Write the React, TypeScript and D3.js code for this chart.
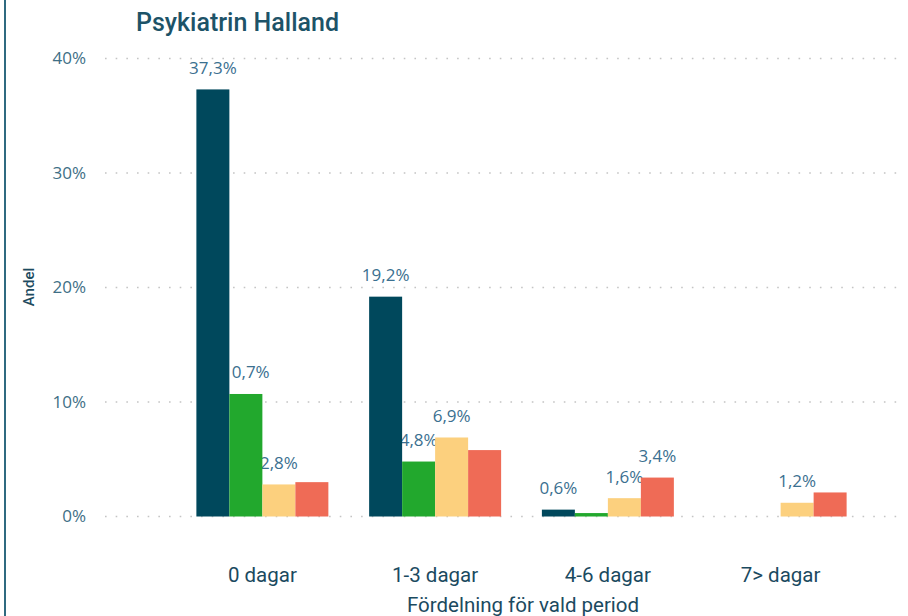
import React from "react";
import * as d3 from "d3";

// categories and series
const groups = ["0 dagar", "1-3 dagar", "4-6 dagar", "7> dagar"];
const seriesKeys = ["s1", "s2", "s3", "s4"];
const seriesColors = ["#00485c", "#22a82d", "#fcd07e", "#ef6b56"];

// values in percent, one array per series
const s1Values = [37.3, 19.2, 0.6, 0];
const s2Values = [10.7, 4.8, 0.3, 0];
const s3Values = [2.8, 6.9, 1.6, 1.2];
const s4Values = [3.0, 5.8, 3.4, 2.1];

// which data labels Power BI actually showed (false = hidden)
const s1Shown = [true, true, true, false];
const s2Shown = [true, true, false, false];
const s3Shown = [true, true, true, true];
const s4Shown = [false, false, true, false];

const yTicks = [0, 10, 20, 30, 40];

const W = 908;
const H = 616;

const fmt = (v: number) => d3.format(".1f")(v).replace(".", ",") + "%";

export default function App() {
  const values = [s1Values, s2Values, s3Values, s4Values];
  const shown = [s1Shown, s2Shown, s3Shown, s4Shown];

  const x0 = d3
    .scaleBand<string>()
    .domain(groups)
    .range([176, 867])
    .paddingInner(0.236)
    .paddingOuter(0.118);
  const x1 = d3
    .scaleBand<string>()
    .domain(seriesKeys)
    .range([0, x0.bandwidth()]);
  const y = d3.scaleLinear().domain([0, 40]).range([516.5, 58.5]);

  const labelFont = "'Open Sans', 'Segoe UI', sans-serif";
  const dinFont = "Roboto, 'Noto Sans', sans-serif";

  return (
    <svg
      width={W}
      height={H}
      style={{ position: "absolute", left: 0, top: 0, background: "#fff" }}
    >
      {/* frame line on the left */}
      <line x1={5} x2={5} y1={0} y2={H} stroke="#2f6a80" strokeWidth={2} />

      {/* title */}
      <text
        x={136}
        y={31}
        fontFamily={dinFont}
        fontSize={25}
        fontWeight={500}
        fill="#1d5368"
      >
        Psykiatrin Halland
      </text>

      {/* gridlines + tick labels */}
      {yTicks.map((t) => (
        <g key={t}>
          <line
            x1={105}
            x2={902}
            y1={y(t)}
            y2={y(t)}
            stroke="#c4c4c4"
            strokeWidth={1.6}
            strokeDasharray="1.6 9.07"
          />
          <text
            x={86}
            y={y(t) + 1}
            textAnchor="end"
            dominantBaseline="middle"
            fontFamily={labelFont}
            fontSize={17}
            fill="#3e6f86"
          >
            {t + "%"}
          </text>
        </g>
      ))}

      {/* y axis title */}
      <text
        transform={`translate(34,287) rotate(-90)`}
        textAnchor="middle"
        fontFamily={dinFont}
        fontSize={15}
        fontWeight={500}
        fill="#1d4b60"
      >
        Andel
      </text>

      {/* data labels first, bars drawn over them like in the original */}
      {groups.map((g, gi) => (
        <g key={"lab" + g} transform={`translate(${x0(g)},0)`}>
          {seriesKeys.map((k, si) =>
            shown[si][gi] ? (
              <text
                key={k}
                x={(x1(k) as number) + x1.bandwidth() / 2}
                y={y(values[si][gi]) - 15.5}
                textAnchor="middle"
                fontFamily={labelFont}
                fontSize={17}
                fill="#3b7090"
              >
                {fmt(values[si][gi])}
              </text>
            ) : null
          )}
        </g>
      ))}

      {/* bars */}
      {groups.map((g, gi) => (
        <g key={"bar" + g} transform={`translate(${x0(g)},0)`}>
          {seriesKeys.map((k, si) => {
            const v = values[si][gi];
            if (!v) return null;
            return (
              <rect
                key={k}
                x={x1(k)}
                y={y(v)}
                width={x1.bandwidth()}
                height={y(0) - y(v)}
                fill={seriesColors[si]}
              />
            );
          })}
        </g>
      ))}

      {/* category labels */}
      {groups.map((g) => (
        <text
          key={"cat" + g}
          x={(x0(g) as number) + x0.bandwidth() / 2}
          y={582}
          textAnchor="middle"
          fontFamily={dinFont}
          fontSize={20.5}
          fill="#1b4a5f"
        >
          {g}
        </text>
      ))}

      {/* x axis title */}
      <text
        x={523}
        y={612}
        textAnchor="middle"
        fontFamily={dinFont}
        fontSize={20.5}
        fill="#1b4a5f"
      >
        Fördelning för vald period
      </text>
    </svg>
  );
}
